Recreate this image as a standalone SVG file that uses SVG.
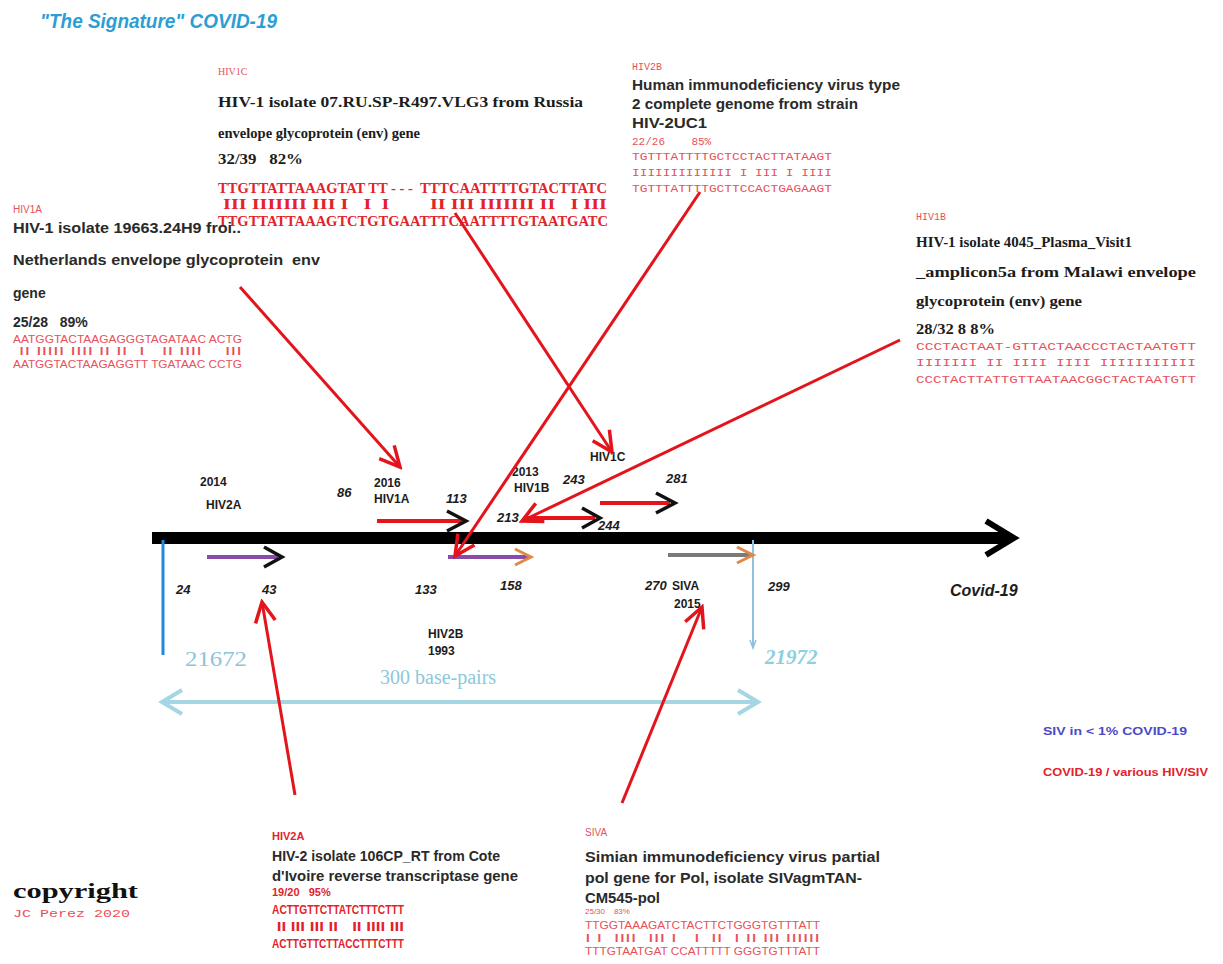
<svg xmlns="http://www.w3.org/2000/svg" width="1223" height="964" viewBox="0 0 1223 964">
  <defs>
    <style>
      .sans { font-family: "Liberation Sans", Arial, sans-serif; }
      .serif { font-family: "Liberation Serif", "Times New Roman", serif; }
      .mono { font-family: "Liberation Mono", "Courier New", monospace; }
      .dark { fill: #1c1c1c; }
      .red { fill: #e3222a; }
      .pink { fill: #e8505a; }
      .tag { font-size: 10px; fill: #e8505a; }
      .desc { font-size: 14px; font-weight: bold; fill: #2a2a2a; }
      .sdesc { font-size: 14.5px; font-weight: bold; fill: #1c1c1c; }
      .num { font-size: 13px; font-weight: bold; font-style: italic; fill: #1c1c1c; }
      .lbl { font-size: 12px; font-weight: bold; fill: #1c1c1c; }
      .big { fill: none; stroke: #e3141b; stroke-width: 3; marker-end: url(#redHead); }
      .seg { fill: none; stroke: #e3141b; stroke-width: 4; }
      .chev { fill: none; stroke: #111; stroke-width: 3.5; stroke-linejoin: miter; }
    </style>
    <marker id="redHead" viewBox="0 0 26 26" markerWidth="26" markerHeight="26" refX="23" refY="13" orient="auto" markerUnits="userSpaceOnUse">
      <path d="M3,3 L23,13 L3,23" fill="none" stroke="#e3141b" stroke-width="3.5"/>
    </marker>
  </defs>
  <rect width="1223" height="964" fill="#ffffff"/>

  <!-- title -->
  <text x="40" y="28" class="sans" font-size="21" font-weight="bold" font-style="italic" fill="#2a9fd6" textLength="237" lengthAdjust="spacingAndGlyphs">"The Signature" COVID-19</text>

  <!-- HIV1C description -->
  <g id="hiv1c-info">
    <text x="218" y="75" class="serif tag">HIV1C</text>
    <text x="218" y="107" class="serif sdesc" textLength="365" lengthAdjust="spacingAndGlyphs">HIV-1 isolate 07.RU.SP-R497.VLG3 from Russia</text>
    <text x="218" y="138" class="serif sdesc" textLength="202" lengthAdjust="spacingAndGlyphs">envelope glycoprotein (env) gene</text>
    <text x="218" y="164" class="serif sdesc" textLength="85" lengthAdjust="spacingAndGlyphs" xml:space="preserve">32/39   82%</text>
    <g class="serif red" font-size="14" font-weight="bold">
      <text x="218" y="193" textLength="389" lengthAdjust="spacingAndGlyphs" xml:space="preserve">TTGTTATTAAAGTAT TT - - -  TTTCAATTTTGTACTTATC</text>
      <text x="218" y="209" textLength="389" lengthAdjust="spacingAndGlyphs" xml:space="preserve"> III IIIIIII III I   I  I        II III IIIIIII II   I III</text>
      <text x="218" y="226" textLength="390" lengthAdjust="spacingAndGlyphs">TTGTTATTAAAGTCTGTGAATTTCAATTTTGTAATGATC</text>
    </g>
  </g>

  <!-- HIV2B description -->
  <g id="hiv2b-info">
    <text x="632" y="70" class="mono tag">HIV2B</text>
    <text x="632" y="90" class="sans desc" textLength="268" lengthAdjust="spacingAndGlyphs">Human immunodeficiency virus type</text>
    <text x="632" y="109" class="sans desc" textLength="226" lengthAdjust="spacingAndGlyphs">2 complete genome from strain</text>
    <text x="632" y="128" class="sans desc" textLength="75" lengthAdjust="spacingAndGlyphs">HIV-2UC1</text>
    <text x="632" y="145" class="mono pink" font-size="11" xml:space="preserve">22/26    85%</text>
    <g class="mono pink" font-size="11">
      <text x="632" y="160" textLength="200" lengthAdjust="spacingAndGlyphs">TGTTTATTTTGCTCCTACTTATAAGT</text>
      <text x="632" y="176" textLength="200" lengthAdjust="spacingAndGlyphs" xml:space="preserve">IIIIIIIIIIIII I III I IIII</text>
      <text x="632" y="192" textLength="200" lengthAdjust="spacingAndGlyphs">TGTTTATTTTGCTTCCACTGAGAAGT</text>
    </g>
  </g>

  <!-- HIV1A description -->
  <g id="hiv1a-info">
    <text x="13" y="213" class="sans tag" font-size="9">HIV1A</text>
    <text x="13" y="233" class="sans desc" textLength="228" lengthAdjust="spacingAndGlyphs">HIV-1 isolate 19663.24H9 froi..</text>
    <text x="13" y="265" class="sans desc" textLength="307" lengthAdjust="spacingAndGlyphs" xml:space="preserve">Netherlands envelope glycoprotein  env</text>
    <text x="13" y="298" class="sans desc">gene</text>
    <text x="13" y="327" class="sans desc" xml:space="preserve">25/28   89%</text>
    <g class="sans pink" font-size="10">
      <text x="13" y="343" textLength="229" lengthAdjust="spacingAndGlyphs">AATGGTACTAAGAGGGTAGATAAC ACTG</text>
      <text x="13" y="355" textLength="229" lengthAdjust="spacingAndGlyphs" xml:space="preserve"> II IIIII IIII II II  I   II IIII    III</text>
      <text x="13" y="368" textLength="229" lengthAdjust="spacingAndGlyphs">AATGGTACTAAGAGGTT TGATAAC CCTG</text>
    </g>
  </g>

  <!-- HIV1B description -->
  <g id="hiv1b-info">
    <text x="916" y="220" class="mono tag">HIV1B</text>
    <text x="916" y="247" class="serif sdesc" textLength="216" lengthAdjust="spacingAndGlyphs">HIV-1 isolate 4045_Plasma_Visit1</text>
    <text x="916" y="277" class="serif sdesc" textLength="280" lengthAdjust="spacingAndGlyphs">_amplicon5a from Malawi envelope</text>
    <text x="916" y="306" class="serif sdesc" textLength="166" lengthAdjust="spacingAndGlyphs">glycoprotein (env) gene</text>
    <text x="916" y="334" class="serif sdesc" textLength="79" lengthAdjust="spacingAndGlyphs">28/32 8 8%</text>
    <g class="mono pink" font-size="11">
      <text x="916" y="350" textLength="280" lengthAdjust="spacingAndGlyphs">CCCTACTAAT-GTTACTAACCCTACTAATGTT</text>
      <text x="916" y="366" textLength="280" lengthAdjust="spacingAndGlyphs" xml:space="preserve">IIIIIII II IIII IIII IIIIIIIIIII</text>
      <text x="916" y="383" textLength="280" lengthAdjust="spacingAndGlyphs">CCCTACTTATTGTTAATAACGGCTACTAATGTT</text>
    </g>
  </g>

  <!-- HIV2A description -->
  <g id="hiv2a-info">
    <text x="272" y="840" class="sans red" font-size="11" font-weight="bold">HIV2A</text>
    <text x="272" y="861" class="sans desc" textLength="228" lengthAdjust="spacingAndGlyphs">HIV-2 isolate 106CP_RT from Cote</text>
    <text x="272" y="881" class="sans desc" textLength="246" lengthAdjust="spacingAndGlyphs">d'Ivoire reverse transcriptase gene</text>
    <text x="272" y="896" class="sans red" font-size="11" font-weight="bold" xml:space="preserve">19/20   95%</text>
    <g class="sans red" font-size="13" font-weight="bold">
      <text x="272" y="914" textLength="132" lengthAdjust="spacingAndGlyphs">ACTTGTTCTTATCTTTCTTT</text>
      <text x="272" y="931" textLength="132" lengthAdjust="spacingAndGlyphs" xml:space="preserve"> II III III II   II IIII III</text>
      <text x="272" y="948" textLength="132" lengthAdjust="spacingAndGlyphs">ACTTGTTCTTACCTTTCTTT</text>
    </g>
  </g>

  <!-- SIVA description -->
  <g id="siva-info">
    <text x="585" y="836" class="sans tag" font-size="9">SIVA</text>
    <text x="585" y="862" class="sans desc" textLength="295" lengthAdjust="spacingAndGlyphs">Simian immunodeficiency virus partial</text>
    <text x="585" y="883" class="sans desc" textLength="277" lengthAdjust="spacingAndGlyphs">pol gene for Pol, isolate SIVagmTAN-</text>
    <text x="585" y="903" class="sans desc" textLength="75" lengthAdjust="spacingAndGlyphs">CM545-pol</text>
    <text x="585" y="914" class="sans pink" font-size="8" xml:space="preserve">25/30    83%</text>
    <g class="sans pink" font-size="10">
      <text x="585" y="929" textLength="235" lengthAdjust="spacingAndGlyphs">TTGGTAAAGATCTACTTCTGGGTGTTTATT</text>
      <text x="585" y="942" textLength="235" lengthAdjust="spacingAndGlyphs" xml:space="preserve">I I  IIII  III I   I  II  I II III IIIIII</text>
      <text x="585" y="955" textLength="235" lengthAdjust="spacingAndGlyphs">TTTGTAATGAT CCATTTTT GGGTGTTTATT</text>
    </g>
  </g>

  <!-- copyright and legend -->
  <g id="copyright">
    <text x="13" y="898" class="serif" font-size="20" font-weight="bold" fill="#111" textLength="125" lengthAdjust="spacingAndGlyphs">copyright</text>
    <text x="13" y="917" class="mono pink" font-size="10.5" textLength="117" lengthAdjust="spacingAndGlyphs">JC Perez 2020</text>
  </g>
  <g id="legend">
    <text x="1043" y="735" class="sans" font-size="11" font-weight="bold" fill="#4a4ac8" textLength="144" lengthAdjust="spacingAndGlyphs">SIV in &lt; 1% COVID-19</text>
    <text x="1043" y="776" class="sans" font-size="11" font-weight="bold" fill="#e3222a" textLength="165" lengthAdjust="spacingAndGlyphs">COVID-19 / various HIV/SIV</text>
  </g>

  <!-- genome axis -->
  <g id="axis">
    <line x1="152" y1="538" x2="1010" y2="538" stroke="#000" stroke-width="12"/>
    <path d="M986,521 L1014,538 L986,555" fill="none" stroke="#000" stroke-width="6"/>
    <line x1="163" y1="540" x2="163" y2="655" stroke="#1e8ad8" stroke-width="3"/>
    <line x1="753" y1="540" x2="753" y2="648" stroke="#8ec0e0" stroke-width="2"/>
    <path d="M750,640 L753,648 L756,640" fill="none" stroke="#8ec0e0" stroke-width="1.5"/>
    <text x="950" y="596" class="sans" font-size="16" font-weight="bold" font-style="italic" fill="#1c1c1c">Covid-19</text>
  </g>

  <!-- span of 300 base pairs -->
  <g id="span">
    <text x="185" y="666" class="serif" font-size="20" fill="#8cc4d8" textLength="62" lengthAdjust="spacingAndGlyphs">21672</text>
    <text x="765" y="664" class="serif" font-size="21" font-style="italic" font-weight="bold" fill="#8ccfe0">21972</text>
    <text x="380" y="684" class="serif" font-size="20" fill="#8cc8dc">300 base-pairs</text>
    <line x1="162" y1="702" x2="758" y2="702" stroke="#a4d6e4" stroke-width="4"/>
    <path d="M182,690 L162,702 L182,714" fill="none" stroke="#a4d6e4" stroke-width="4"/>
    <path d="M738,690 L758,702 L738,714" fill="none" stroke="#a4d6e4" stroke-width="4"/>
  </g>

  <!-- matched segments along the genome -->
  <g id="seg-hiv2a">
    <text x="200" y="486" class="sans lbl">2014</text>
    <text x="206" y="509" class="sans lbl">HIV2A</text>
    <line x1="207" y1="557" x2="278" y2="557" stroke="#8a4aa8" stroke-width="4"/>
    <path class="chev" d="M264,547 L282,557 L264,567"/>
    <text x="176" y="594" class="sans num" font-size="12">24</text>
    <text x="262" y="594" class="sans num" font-size="12">43</text>
  </g>
  <g id="seg-hiv1a">
    <text x="337" y="497" class="sans num" font-size="15">86</text>
    <text x="374" y="487" class="sans lbl">2016</text>
    <text x="374" y="503" class="sans lbl">HIV1A</text>
    <line class="seg" x1="377" y1="521" x2="462" y2="521"/>
    <path class="chev" d="M447,511 L466,521 L447,531"/>
    <text x="446" y="503" class="sans num" font-size="15">113</text>
  </g>
  <g id="seg-hiv2b">
    <line x1="448" y1="557" x2="528" y2="557" stroke="#8a4aa8" stroke-width="4"/>
    <path d="M515,549 L531,557 L515,565" fill="none" stroke="#e08848" stroke-width="3"/>
    <text x="415" y="594" class="sans num" font-size="12">133</text>
    <text x="500" y="590" class="sans num" font-size="12">158</text>
    <text x="428" y="638" class="sans lbl">HIV2B</text>
    <text x="428" y="655" class="sans lbl">1993</text>
  </g>
  <g id="seg-hiv1b">
    <text x="512" y="476" class="sans lbl">2013</text>
    <text x="514" y="492" class="sans lbl">HIV1B</text>
    <text x="563" y="484" class="sans num" font-size="15">243</text>
    <text x="497" y="522" class="sans num" font-size="15">213</text>
    <line class="seg" x1="527" y1="518" x2="595" y2="518"/>
    <path class="chev" d="M582,508 L600,518 L582,528"/>
    <text x="598" y="530" class="sans num" font-size="15">244</text>
  </g>
  <g id="seg-hiv1c">
    <text x="590" y="461" class="sans lbl">HIV1C</text>
    <line class="seg" x1="600" y1="503" x2="670" y2="503"/>
    <path class="chev" d="M656,493 L675,503 L656,513"/>
    <text x="666" y="483" class="sans num" font-size="15">281</text>
  </g>
  <g id="seg-siva">
    <line x1="668" y1="555" x2="750" y2="555" stroke="#7a7a7a" stroke-width="4"/>
    <path d="M737,547 L753,555 L737,563" fill="none" stroke="#e08848" stroke-width="3"/>
    <text x="645" y="590" class="sans num" font-size="12">270</text>
    <text x="672" y="590" class="sans lbl">SIVA</text>
    <text x="674" y="608" class="sans lbl">2015</text>
    <text x="768" y="591" class="sans num" font-size="12">299</text>
  </g>

  <!-- connectors from each description to its segment -->
  <g id="connectors">
    <line class="big" x1="240" y1="287" x2="400" y2="467"/>
    <line class="big" x1="455" y1="213" x2="612" y2="452"/>
    <line class="big" x1="700" y1="192" x2="455" y2="556"/>
    <line class="big" x1="900" y1="340" x2="522" y2="521"/>
    <line class="big" x1="295" y1="795" x2="262" y2="602"/>
    <line class="big" x1="622" y1="803" x2="702" y2="607"/>
  </g>
</svg>
